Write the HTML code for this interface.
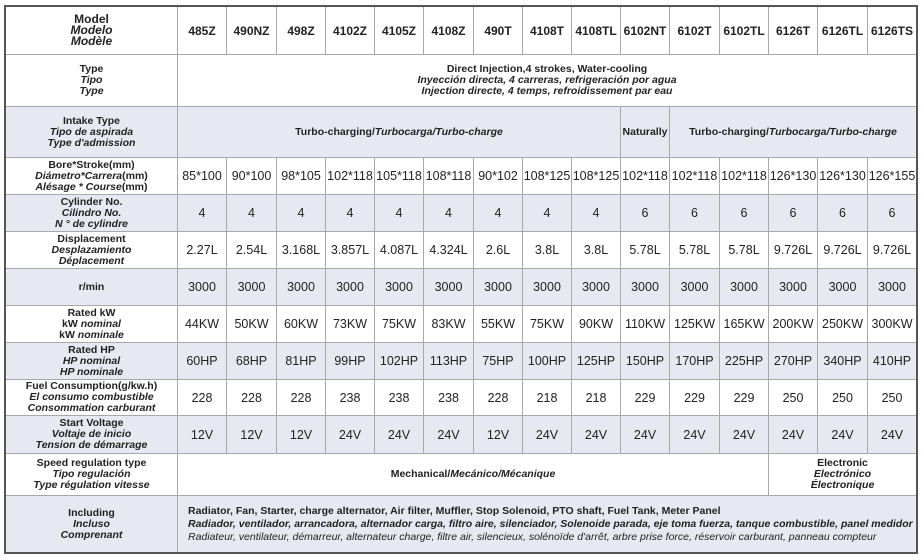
<!DOCTYPE html>
<html><head><meta charset="utf-8"><style>
html,body{margin:0;padding:0;background:#fff;width:924px;height:560px;overflow:hidden}
table{position:absolute;left:5px;top:6px;border-collapse:collapse;table-layout:fixed;width:911px;font-family:"Liberation Sans",sans-serif;color:#222;outline:2px solid #555;outline-offset:-1px}
td{border:1px solid #a8a8a8;text-align:center;vertical-align:middle;padding:0;font-size:12.5px;white-space:nowrap;overflow:hidden}
td.h{font-weight:bold;font-size:10.5px;line-height:11px}
td.h i{font-weight:bold}
tr.s td{background:#e6e9f1}
.m td{font-weight:bold;font-size:12px}
.t{font-weight:bold;font-size:10.5px;line-height:11px}
.inc{text-align:left;padding-left:10px;font-weight:bold;font-size:10.5px;line-height:13px}
</style></head><body>
<table>
<colgroup><col style="width:172px"><col style="width:49px"><col style="width:50px"><col style="width:49px"><col style="width:49px"><col style="width:49px"><col style="width:50px"><col style="width:49px"><col style="width:49px"><col style="width:49px"><col style="width:49px"><col style="width:50px"><col style="width:49px"><col style="width:49px"><col style="width:50px"><col style="width:49px"></colgroup>
<tr class="m" style="height:48px"><td class="h">Model<br><i>Modelo</i><br><i>Modèle</i></td><td>485Z</td><td>490NZ</td><td>498Z</td><td>4102Z</td><td>4105Z</td><td>4108Z</td><td>490T</td><td>4108T</td><td>4108TL</td><td>6102NT</td><td>6102T</td><td>6102TL</td><td>6126T</td><td>6126TL</td><td>6126TS</td></tr>
<tr style="height:52px"><td class="h">Type<br><i>Tipo</i><br><i>Type</i></td><td colspan="15" class="t">Direct Injection,4 strokes, Water-cooling<br><i>Inyección directa, 4 carreras, refrigeración por agua</i><br><i>Injection directe, 4 temps, refroidissement par eau</i></td></tr>
<tr class="s" style="height:51px"><td class="h">Intake Type<br><i>Tipo de aspirada</i><br><i>Type d'admission</i></td><td colspan="9" class="t">Turbo-charging/<i>Turbocarga/Turbo-charge</i></td><td class="t">Naturally</td><td colspan="5" class="t">Turbo-charging/<i>Turbocarga/Turbo-charge</i></td></tr>
<tr style="height:37px"><td class="h">Bore*Stroke(mm)<br><i>Diámetro*Carrera</i>(mm)<br><i>Alésage * Course</i>(mm)</td><td>85*100</td><td>90*100</td><td>98*105</td><td>102*118</td><td>105*118</td><td>108*118</td><td>90*102</td><td>108*125</td><td>108*125</td><td>102*118</td><td>102*118</td><td>102*118</td><td>126*130</td><td>126*130</td><td>126*155</td></tr>
<tr class="s" style="height:37px"><td class="h">Cylinder No.<br><i>Cilindro No.</i><br><i>N ° de cylindre</i></td><td>4</td><td>4</td><td>4</td><td>4</td><td>4</td><td>4</td><td>4</td><td>4</td><td>4</td><td>6</td><td>6</td><td>6</td><td>6</td><td>6</td><td>6</td></tr>
<tr style="height:37px"><td class="h">Displacement<br><i>Desplazamiento</i><br><i>Déplacement</i></td><td>2.27L</td><td>2.54L</td><td>3.168L</td><td>3.857L</td><td>4.087L</td><td>4.324L</td><td>2.6L</td><td>3.8L</td><td>3.8L</td><td>5.78L</td><td>5.78L</td><td>5.78L</td><td>9.726L</td><td>9.726L</td><td>9.726L</td></tr>
<tr class="s" style="height:37px"><td class="h">r/min</td><td>3000</td><td>3000</td><td>3000</td><td>3000</td><td>3000</td><td>3000</td><td>3000</td><td>3000</td><td>3000</td><td>3000</td><td>3000</td><td>3000</td><td>3000</td><td>3000</td><td>3000</td></tr>
<tr style="height:37px"><td class="h">Rated kW<br>kW <i>nominal</i><br>kW <i>nominale</i></td><td>44KW</td><td>50KW</td><td>60KW</td><td>73KW</td><td>75KW</td><td>83KW</td><td>55KW</td><td>75KW</td><td>90KW</td><td>110KW</td><td>125KW</td><td>165KW</td><td>200KW</td><td>250KW</td><td>300KW</td></tr>
<tr class="s" style="height:37px"><td class="h">Rated HP<br><i>HP nominal</i><br><i>HP nominale</i></td><td>60HP</td><td>68HP</td><td>81HP</td><td>99HP</td><td>102HP</td><td>113HP</td><td>75HP</td><td>100HP</td><td>125HP</td><td>150HP</td><td>170HP</td><td>225HP</td><td>270HP</td><td>340HP</td><td>410HP</td></tr>
<tr style="height:36px"><td class="h">Fuel Consumption(g/kw.h)<br><i>El consumo combustible</i><br><i>Consommation carburant</i></td><td>228</td><td>228</td><td>228</td><td>238</td><td>238</td><td>238</td><td>228</td><td>218</td><td>218</td><td>229</td><td>229</td><td>229</td><td>250</td><td>250</td><td>250</td></tr>
<tr class="s" style="height:38px"><td class="h">Start Voltage<br><i>Voltaje de inicio</i><br><i>Tension de démarrage</i></td><td>12V</td><td>12V</td><td>12V</td><td>24V</td><td>24V</td><td>24V</td><td>12V</td><td>24V</td><td>24V</td><td>24V</td><td>24V</td><td>24V</td><td>24V</td><td>24V</td><td>24V</td></tr>
<tr style="height:42px"><td class="h">Speed regulation type<br><i>Tipo regulación</i><br><i>Type régulation vitesse</i></td><td colspan="12" class="t">Mechanical/<i>Mecánico/Mécanique</i></td><td colspan="3" class="t">Electronic<br><i>Electrónico</i><br><i>Électronique</i></td></tr>
<tr class="s" style="height:57px"><td class="h">Including<br><i>Incluso</i><br><i>Comprenant</i></td><td colspan="15" class="inc">Radiator, Fan, Starter, charge alternator, Air filter, Muffler, Stop Solenoid, PTO shaft, Fuel Tank, Meter Panel<br><i>Radiador, ventilador, arrancadora, alternador carga, filtro aire, silenciador, Solenoide parada, eje toma fuerza, tanque combustible, panel medidor</i><br><i style="font-weight:normal">Radiateur, ventilateur, démarreur, alternateur charge, filtre air, silencieux, solénoïde d'arrêt, arbre prise force, réservoir carburant, panneau compteur</i></td></tr>
</table>
</body></html>
